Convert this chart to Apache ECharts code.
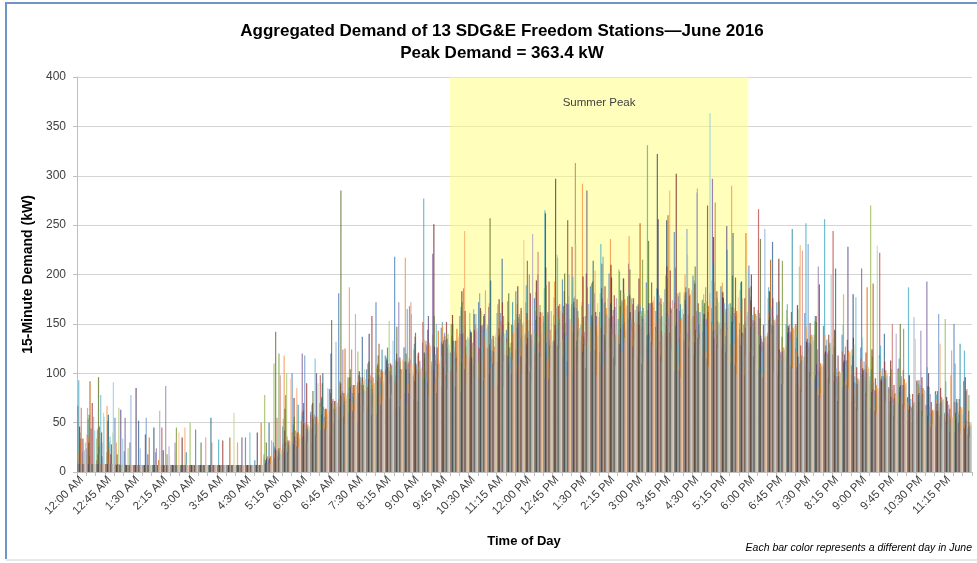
<!DOCTYPE html>
<html>
<head>
<meta charset="utf-8">
<script src="https://cdn.jsdelivr.net/npm/echarts@6/dist/echarts.min.js"></script>
<style>
html,body{margin:0;padding:0;background:#fff;}
#chart{width:977px;height:563px;}
</style>
</head>
<body>
<div id="chart"></div>
<script>
// 15-minute time slots (categories)
const timeSlots = [
'12:00 AM','12:15 AM','12:30 AM','12:45 AM','1:00 AM','1:15 AM','1:30 AM','1:45 AM','2:00 AM','2:15 AM','2:30 AM','2:45 AM',
'3:00 AM','3:15 AM','3:30 AM','3:45 AM','4:00 AM','4:15 AM','4:30 AM','4:45 AM','5:00 AM','5:15 AM','5:30 AM','5:45 AM',
'6:00 AM','6:15 AM','6:30 AM','6:45 AM','7:00 AM','7:15 AM','7:30 AM','7:45 AM','8:00 AM','8:15 AM','8:30 AM','8:45 AM',
'9:00 AM','9:15 AM','9:30 AM','9:45 AM','10:00 AM','10:15 AM','10:30 AM','10:45 AM','11:00 AM','11:15 AM','11:30 AM','11:45 AM',
'12:00 PM','12:15 PM','12:30 PM','12:45 PM','1:00 PM','1:15 PM','1:30 PM','1:45 PM','2:00 PM','2:15 PM','2:30 PM','2:45 PM',
'3:00 PM','3:15 PM','3:30 PM','3:45 PM','4:00 PM','4:15 PM','4:30 PM','4:45 PM','5:00 PM','5:15 PM','5:30 PM','5:45 PM',
'6:00 PM','6:15 PM','6:30 PM','6:45 PM','7:00 PM','7:15 PM','7:30 PM','7:45 PM','8:00 PM','8:15 PM','8:30 PM','8:45 PM',
'9:00 PM','9:15 PM','9:30 PM','9:45 PM','10:00 PM','10:15 PM','10:30 PM','10:45 PM','11:00 PM','11:15 PM','11:30 PM','11:45 PM'
];
const yTicks = [0, 50, 100, 150, 200, 250, 300, 350, 400];
const summerPeak = ['10:00 AM', '6:00 PM'];

// demand (kW) per 15-minute slot, one array per day of June 2016
const d01 = [8,24,8,8,55,21,7,7,7,7,7,7, 7,7,7,7,7,7,35,12,18,30,46,100, 52,61,70,84,181,96,88,104,172,118,218,126, 98,131,112,146,121,158,135,172,126,161,144,183, 140,176,158,132,195,170,149,188,162,201,155,178, 168,192,147,185,243,160,199,174,152,188,171,145, 209,164,138,172,150,126,161,133,148,119,139,108, 126,97,118,86,104,75,92,68,81,60,150,58];
const d02 = [67,38,12,8,7,7,7,7,7,45,7,7, 7,7,7,7,7,7,7,7,14,22,28,40, 46,58,98,62,74,80,91,86,99,104,92,112, 96,152,108,131,102,140,117,126,149,111,135,124, 138,119,152,128,161,228,133,147,121,156,139,168, 150,127,163,141,172,134,158,119,166,145,129,151, 186,266,141,159,128,150,117,139,108,244,122,99, 115,92,222,84,105,76,93,67,82,58,71,92];
const d03 = [28,65,34,8,8,7,7,7,7,7,7,7, 50,7,7,7,7,7,7,7,78,110,54,38, 60,48,66,72,88,94,122,90,106,98,112,104, 124,103,139,118,150,126,161,112,147,170,132,155, 172,141,186,159,134,193,168,148,181,127,205,176, 158,187,143,199,166,182,138,175,194,151,170,184, 162,139,176,121,164,147,128,153,112,136,101,124, 93,270,116,84,102,71,88,64,79,155,55,88];
const d04 = [12,8,8,8,7,55,7,7,7,7,7,7, 7,7,7,7,7,7,7,7,8,16,24,31, 120,30,42,38,54,60,48,66,58,72,64,80, 74,92,221,86,104,81,112,96,167,90,118,102, 108,126,95,134,117,101,139,122,109,143,128,211, 115,137,124,148,103,131,119,142,297,126,111,133, 121,103,130,98,117,89,108,94,79,101,86,72, 206,64,83,58,70,52,61,193,47,55,40,46];
const d05 = [93,54,42,20,8,7,7,7,7,7,7,7, 7,7,7,33,7,7,7,7,12,26,34,48, 56,68,74,80,92,86,98,110,104,116,108,126, 130,277,119,152,138,167,144,181,156,139,173,160, 189,163,265,177,150,198,172,191,231,166,203,184, 170,331,186,161,207,179,194,168,211,183,159,192, 178,161,187,149,170,136,252,158,256,127,149,118, 136,104,128,97,115,187,89,106,78,92,110,123];
const d06 = [20,36,44,67,30,8,7,7,7,7,7,7, 7,7,7,7,7,30,7,7,10,20,118,44, 52,60,72,78,90,187,96,102,110,98,114,217, 108,134,116,149,125,163,137,118,171,146,129,170, 155,182,140,193,168,151,292,174,147,236,183,239, 166,195,152,187,171,200,158,180,149,192,290,164, 171,148,162,130,156,122,147,116,139,107,180,101, 112,88,104,79,96,70,85,63,74,56,66,49];
const d07 = [8,8,8,8,7,7,7,7,45,22,7,7, 7,7,7,7,7,7,7,7,9,14,20,28, 36,44,58,120,66,74,80,86,92,113,98,104, 92,121,104,130,150,111,142,125,99,137,118,146, 129,154,262,133,168,141,122,159,146,171,130,155, 162,139,322,255,148,174,131,160,143,177,152,128, 147,129,154,113,141,106,132,98,120,92,111,180, 99,81,94,72,86,63,78,57,69,51,60,44];
const d08 = [46,30,18,8,7,7,7,7,7,7,7,35, 7,7,7,7,7,7,7,7,12,24,42,75, 62,70,76,84,90,96,102,94,108,114,120,112, 137,115,251,128,159,183,141,166,129,175,152,188, 161,194,207,149,183,172,198,157,186,210,168,179, 196,164,185,208,302,170,191,155,238,182,167,193, 174,156,183,216,148,169,131,158,122,144,113,136, 105,124,92,113,81,98,71,87,62,76,54,96];
const d09 = [40,58,96,52,18,7,7,7,7,7,7,7, 7,30,7,7,7,7,7,7,30,142,64,56, 70,82,90,154,285,104,98,112,118,126,147,120, 141,119,158,133,149,172,128,163,257,145,181,157, 214,166,189,143,201,176,157,193,211,169,184,205, 163,234,179,196,152,187,208,171,192,160,199,176, 188,236,159,173,141,165,130,152,121,143,110,129, 101,117,88,104,150,79,93,68,82,60,71,53];
const d10 = [8,8,8,8,7,7,85,38,7,7,7,7, 7,7,7,7,7,7,7,40,14,22,30,36, 48,54,62,70,78,86,92,140,98,106,112,104, 110,94,127,105,133,140,116,148,124,139,109,151, 136,158,122,297,141,167,130,153,176,197,145,162, 149,171,256,138,165,182,144,160,135,176,153,141, 200,138,157,124,146,117,135,109,128,98,119,91, 103,84,97,76,88,67,80,100,61,72,54,47];
const d11 = [8,16,26,58,8,7,7,7,7,7,7,7, 7,7,55,7,7,7,7,7,8,12,18,24, 30,38,100,46,54,60,48,66,58,74,62,70, 78,96,84,107,91,113,99,87,194,104,121,95, 116,102,131,110,124,99,137,214,118,142,107,129, 121,138,109,146,127,114,135,152,118,131,242,112, 128,107,121,96,114,89,108,84,101,206,92,76, 85,68,79,61,72,55,66,86,50,59,74,82];
const d12 = [34,92,46,22,8,7,7,7,7,7,7,7, 7,7,7,7,35,7,7,7,8,14,78,30, 36,42,50,56,64,72,68,80,130,76,88,70, 84,102,91,137,97,115,88,121,106,93,126,110, 99,128,113,134,105,140,119,131,108,145,123,137, 252,116,141,260,124,149,112,137,127,143,118,104, 125,101,215,96,118,88,109,82,97,77,91,70, 84,191,73,64,78,58,69,52,63,47,55,42];
const d13 = [8,8,8,8,7,7,7,55,20,7,7,7, 7,7,7,7,7,7,7,7,10,18,26,34, 118,56,64,72,80,88,96,92,104,110,116,165, 108,133,119,141,126,152,114,147,135,161,122,156, 143,200,137,166,151,178,133,162,218,147,172,155, 168,141,179,156,133,246,160,187,144,171,152,138, 159,135,167,122,149,116,231,124,134,105,127,97, 112,91,105,83,97,74,88,66,160,59,70,52];
const d14 = [65,44,30,12,7,7,7,7,7,7,7,7, 7,7,30,7,7,7,7,7,16,55,36,42, 50,58,66,74,82,124,90,98,94,106,112,108, 104,129,113,138,122,186,131,144,117,153,126,160, 136,223,148,127,171,313,142,165,131,158,174,149, 157,139,172,150,181,128,163,145,273,152,166,140, 151,127,144,118,139,109,126,102,121,94,113,85, 97,79,91,150,83,66,77,59,69,52,61,84];
const d15 = [8,8,18,30,65,24,7,7,7,7,7,7, 7,7,7,7,7,7,7,7,12,20,100,40, 46,54,62,70,78,86,94,90,102,153,108,116, 99,124,108,132,116,170,125,141,112,148,131,120, 154,137,161,220,145,231,128,166,150,139,172,143, 160,134,169,147,158,220,141,173,129,162,150,137, 148,122,141,115,134,208,121,99,116,91,109,85, 98,78,91,70,85,63,77,58,68,51,60,45];
const d16 = [8,8,8,8,7,7,7,7,24,87,30,7, 7,7,7,7,7,7,7,7,10,16,24,32, 40,48,56,64,124,80,88,84,96,102,172,110, 103,127,96,134,115,141,108,149,123,137,117,155, 200,131,162,145,170,126,158,181,139,164,150,176, 146,171,133,160,178,141,283,155,168,130,161,149, 154,132,149,121,142,110,131,208,119,97,113,90, 104,83,97,74,88,65,143,79,58,68,50,44];
const d17 = [20,44,78,36,8,7,7,7,7,7,7,7, 7,7,7,7,7,7,40,7,12,22,30,38, 46,115,54,62,70,78,86,94,90,102,108,104, 118,96,150,109,133,117,165,128,104,142,121,136, 147,125,158,217,138,166,129,152,171,136,160,145, 163,140,155,172,131,159,287,147,165,138,154,129, 146,124,139,113,133,104,127,98,118,90,109,177, 93,75,88,68,81,61,73,55,65,49,58,43];
const d18 = [8,8,8,8,7,7,7,7,7,7,22,45, 7,7,7,7,7,7,7,7,8,14,36,85, 40,46,52,58,64,70,76,82,78,88,94,90, 120,84,101,92,109,244,96,114,88,119,103,125, 107,131,116,139,98,125,144,204,112,136,121,147, 118,140,126,285,109,134,151,122,139,116,130,107, 123,100,116,92,111,230,97,85,102,78,94,69, 81,65,77,58,71,53,64,48,130,57,42,50];
const d19 = [8,8,8,8,7,7,52,18,7,7,7,7, 7,7,7,7,7,7,7,7,50,14,20,26, 32,38,44,50,56,62,137,58,68,74,66,80, 72,91,80,98,86,104,160,93,110,216,99,117, 102,121,94,128,112,133,105,124,139,116,196,127, 110,132,118,141,103,126,136,115,129,121,108,98, 117,96,233,89,108,84,101,78,95,72,88,66, 80,62,140,57,69,51,62,46,56,41,50,38];
const d20 = [34,70,40,18,7,7,7,7,7,7,7,7, 7,7,7,32,7,7,7,7,14,24,32,40, 90,56,64,72,80,88,96,158,104,110,116,112, 121,144,126,152,133,163,144,158,138,172,149,166, 181,157,193,168,255,175,201,162,188,179,196,170, 158,192,176,204,163,186,171,270,183,165,197,176, 167,149,176,137,162,128,151,190,139,118,134,106, 121,95,112,88,103,79,96,71,85,64,74,62];
const d21 = [8,8,8,8,7,7,7,7,7,18,45,7, 7,7,7,7,7,7,7,7,10,120,28,36, 44,52,60,68,76,84,92,88,100,106,112,168, 107,132,115,140,121,149,128,156,134,143,120,163, 141,169,133,157,178,146,163,138,172,150,181,159, 215,147,170,158,182,137,166,151,176,143,160,152, 161,139,157,214,145,118,137,110,129,101,121,93, 108,87,101,79,145,70,85,62,74,56,65,78];
const d22 = [8,8,16,28,63,30,7,7,7,7,7,7, 7,7,7,7,7,35,7,7,12,20,28,36, 44,100,52,60,68,76,84,80,92,98,104,100, 101,158,109,135,116,127,141,160,122,149,131,118, 139,162,128,151,170,143,285,158,134,167,149,176, 155,171,143,166,136,178,150,162,139,249,158,146, 153,131,148,122,141,113,130,106,123,97,228,89, 101,82,95,75,88,68,79,61,71,53,62,46];
const d23 = [8,8,8,8,7,7,7,7,7,7,7,20, 43,7,7,7,7,7,7,7,10,18,30,68, 40,48,56,64,72,80,88,84,124,96,102,98, 96,118,104,126,111,134,99,142,121,131,172,138, 127,149,118,155,138,163,126,147,160,135,152,141, 166,143,158,131,170,147,162,137,153,225,145,133, 150,128,145,117,246,110,128,103,121,95,113,88, 99,80,93,72,86,65,77,58,68,50,130,45];
const d24 = [8,8,8,8,7,7,7,35,12,7,7,7, 7,7,7,7,7,7,7,50,16,24,32,40, 48,56,64,72,125,88,84,96,102,108,104,114, 112,131,143,124,145,119,150,136,127,158,141,149, 133,161,144,170,137,156,187,148,166,139,175,152, 147,172,136,164,155,180,141,168,152,146,163,242, 160,137,154,126,146,118,139,110,131,102,123,95, 187,88,103,80,94,71,85,63,76,98,66,50];
const d25 = [22,56,30,8,7,78,24,7,7,7,7,7, 7,7,7,7,7,7,7,7,8,12,18,24, 30,36,42,132,48,54,60,66,72,78,74,84, 113,78,96,84,102,89,160,95,108,86,114,99, 92,117,104,125,200,111,131,98,122,108,136,115, 103,128,112,121,96,133,117,106,126,113,99,118, 108,246,101,89,105,81,97,75,90,69,84,62, 76,58,70,52,64,157,57,48,44,53,38,35];
const d26 = [8,8,8,8,7,7,7,7,7,7,7,7, 7,35,7,7,7,7,7,7,8,98,20,26, 32,38,44,50,56,62,68,64,74,80,86,172, 76,94,83,101,90,107,95,184,86,112,99,118, 104,126,111,133,98,120,138,114,127,106,131,119, 112,135,101,124,140,117,129,108,132,121,110,125, 115,97,110,88,104,224,95,80,92,73,87,66, 78,61,73,55,67,50,60,45,54,123,41,37];
const d27 = [14,30,60,40,8,7,7,7,7,7,7,7, 7,7,7,7,60,7,7,7,12,22,30,38, 46,90,54,62,70,78,104,86,94,90,100,106, 100,122,108,140,117,131,109,145,124,137,115,151, 132,158,126,149,166,137,155,171,140,162,147,135, 153,174,139,161,146,168,135,157,172,144,160,204, 155,134,151,124,145,115,136,108,128,100,121,93, 105,229,98,76,90,69,82,61,72,55,64,48];
const d28 = [8,8,8,8,7,7,7,7,62,26,7,7, 7,7,7,7,7,7,7,7,32,18,26,34, 42,50,58,66,74,160,82,90,86,98,104,160, 104,127,110,121,134,116,143,125,137,119,148,131, 241,140,163,132,155,145,170,137,159,176,143,164, 151,167,138,174,156,143,162,181,149,166,137,158, 158,136,152,123,145,114,137,107,129,99,120,92, 104,84,97,140,89,70,83,62,73,55,64,47];
const d29 = [30,42,56,91,34,7,7,7,7,7,7,7, 7,7,7,7,7,7,7,7,10,18,26,34, 42,50,85,58,66,74,82,78,90,133,96,102, 98,121,107,129,114,137,120,145,126,140,118,152, 131,155,138,163,127,146,170,141,158,135,166,149, 160,138,172,149,165,155,143,363.4,151,170,139,162, 156,133,149,121,143,112,135,106,200,97,118,90, 102,82,95,74,87,66,79,60,70,53,62,46];
const d30 = [8,8,8,8,7,7,7,7,7,16,40,7, 7,7,7,7,7,7,7,7,12,22,95,38, 46,54,62,70,78,86,94,90,102,108,114,110, 106,128,113,124,137,119,146,128,140,123,154,235, 145,162,134,170,151,139,165,157,176,144,169,152, 163,178,145,169,157,184,150,172,139,165,177,148, 160,138,155,126,148,117,139,110,131,101,122,94, 106,85,99,77,91,135,82,63,74,56,66,49];

const dayData = [d01,d02,d03,d04,d05,d06,d07,d08,d09,d10,d11,d12,d13,d14,d15,d16,d17,d18,d19,d20,d21,d22,d23,d24,d25,d26,d27,d28,d29,d30];

const palette = [
'#4F81BD','#C0504D','#9BBB59','#8064A2','#4BACC6','#F79646',
'#2C4D75','#772C2A','#5F7530','#4D3B62','#276A7C','#B65708',
'#729ACA','#CD7371','#AFC97A','#9983B5','#6FBDD1','#F9AB6B',
'#3A6595','#9C3A38','#7E9C40','#664F85','#3590A8','#E46C0A',
'#95B3D7','#D99694','#C3D69B','#B3A2C7','#93CDDD','#FAC090'
];

const FONT = "'Liberation Sans', Arial, sans-serif";
const chart = echarts.init(document.getElementById('chart'));

const barSeries = dayData.map((d, i) => ({
  type: 'bar',
  name: 'June ' + (i + 1),
  data: d,
  barWidth: 1.2,
  barGap: '-77%',
  barCategoryGap: '0%',
  silent: true,
  itemStyle: { color: palette[i], opacity: 0.8 },
  z: 2
}));

const peakStart = timeSlots.indexOf(summerPeak[0]);
const peakEnd = timeSlots.indexOf(summerPeak[1]);

chart.setOption({
  animation: false,
  backgroundColor: '#fff',
  title: {
    text: 'Aggregated Demand of 13 SDG&E Freedom Stations\u2014June 2016\nPeak Demand = 363.4 kW',
    left: 497,
    textAlign: 'center',
    top: 15,
    textStyle: { fontFamily: FONT, fontSize: 17, fontWeight: 'bold', color: '#000', lineHeight: 22 }
  },
  grid: { left: 77, right: 5, top: 77, bottom: 91, containLabel: false },
  xAxis: [{
    type: 'category',
    data: timeSlots,
    axisLine: { show: true, lineStyle: { color: '#BFBFBF', width: 1 } },
    axisTick: { show: true, interval: 0, length: 4, lineStyle: { color: '#BFBFBF' } },
    axisLabel: { interval: 2, rotate: 45, fontSize: 11.5, color: '#404040', fontFamily: FONT, margin: 6 },
    splitLine: { show: false }
  }, {
    type: 'value', min: 0, max: timeSlots.length, show: false
  }],
  yAxis: {
    type: 'value',
    min: yTicks[0], max: yTicks[yTicks.length - 1], interval: 50,
    name: '15-Minute Demand (kW)',
    nameLocation: 'middle',
    nameGap: 31,
    nameRotate: 90,
    nameTextStyle: { fontFamily: FONT, fontSize: 14, fontWeight: 'bold', color: '#000' },
    axisLine: { show: true, lineStyle: { color: '#BFBFBF' } },
    axisTick: { show: true, length: 4, lineStyle: { color: '#BFBFBF' } },
    axisLabel: { fontSize: 12, color: '#404040', fontFamily: FONT, margin: 11 },
    splitLine: { lineStyle: { color: '#D4D4D4', width: 1 } }
  },
  series: barSeries.concat([{
    type: 'line',
    xAxisIndex: 1,
    data: [],
    z: 10,
    silent: true,
    markArea: {
      silent: true,
      itemStyle: { color: 'rgba(255,255,125,0.52)' },
      label: { show: true, position: 'insideTop', distance: 20, fontSize: 11.5, color: '#404040', fontFamily: FONT },
      data: [[{ name: 'Summer Peak', xAxis: peakStart }, { xAxis: peakEnd }]]
    }
  }]),
  graphic: [
    { type: 'polyline', shape: { points: [[1000, 3], [6, 3], [6, 559]] }, style: { fill: 'none', stroke: '#6F95C8', lineWidth: 2 }, silent: true },
    { type: 'line', shape: { x1: 6, y1: 560, x2: 977, y2: 560 }, style: { stroke: '#D0D0D0', lineWidth: 1 }, silent: true },
    { type: 'text', x: 524, y: 541, style: { text: 'Time of Day', font: "bold 13px 'Liberation Sans', Arial, sans-serif", fill: '#000', textAlign: 'center', textVerticalAlign: 'middle' } },
    { type: 'text', x: 972, y: 548, style: { text: 'Each bar color represents a different day in June', font: "italic 10.5px 'Liberation Sans', Arial, sans-serif", fill: '#000', textAlign: 'right', textVerticalAlign: 'middle' } }
  ]
});
</script>
</body>
</html>
